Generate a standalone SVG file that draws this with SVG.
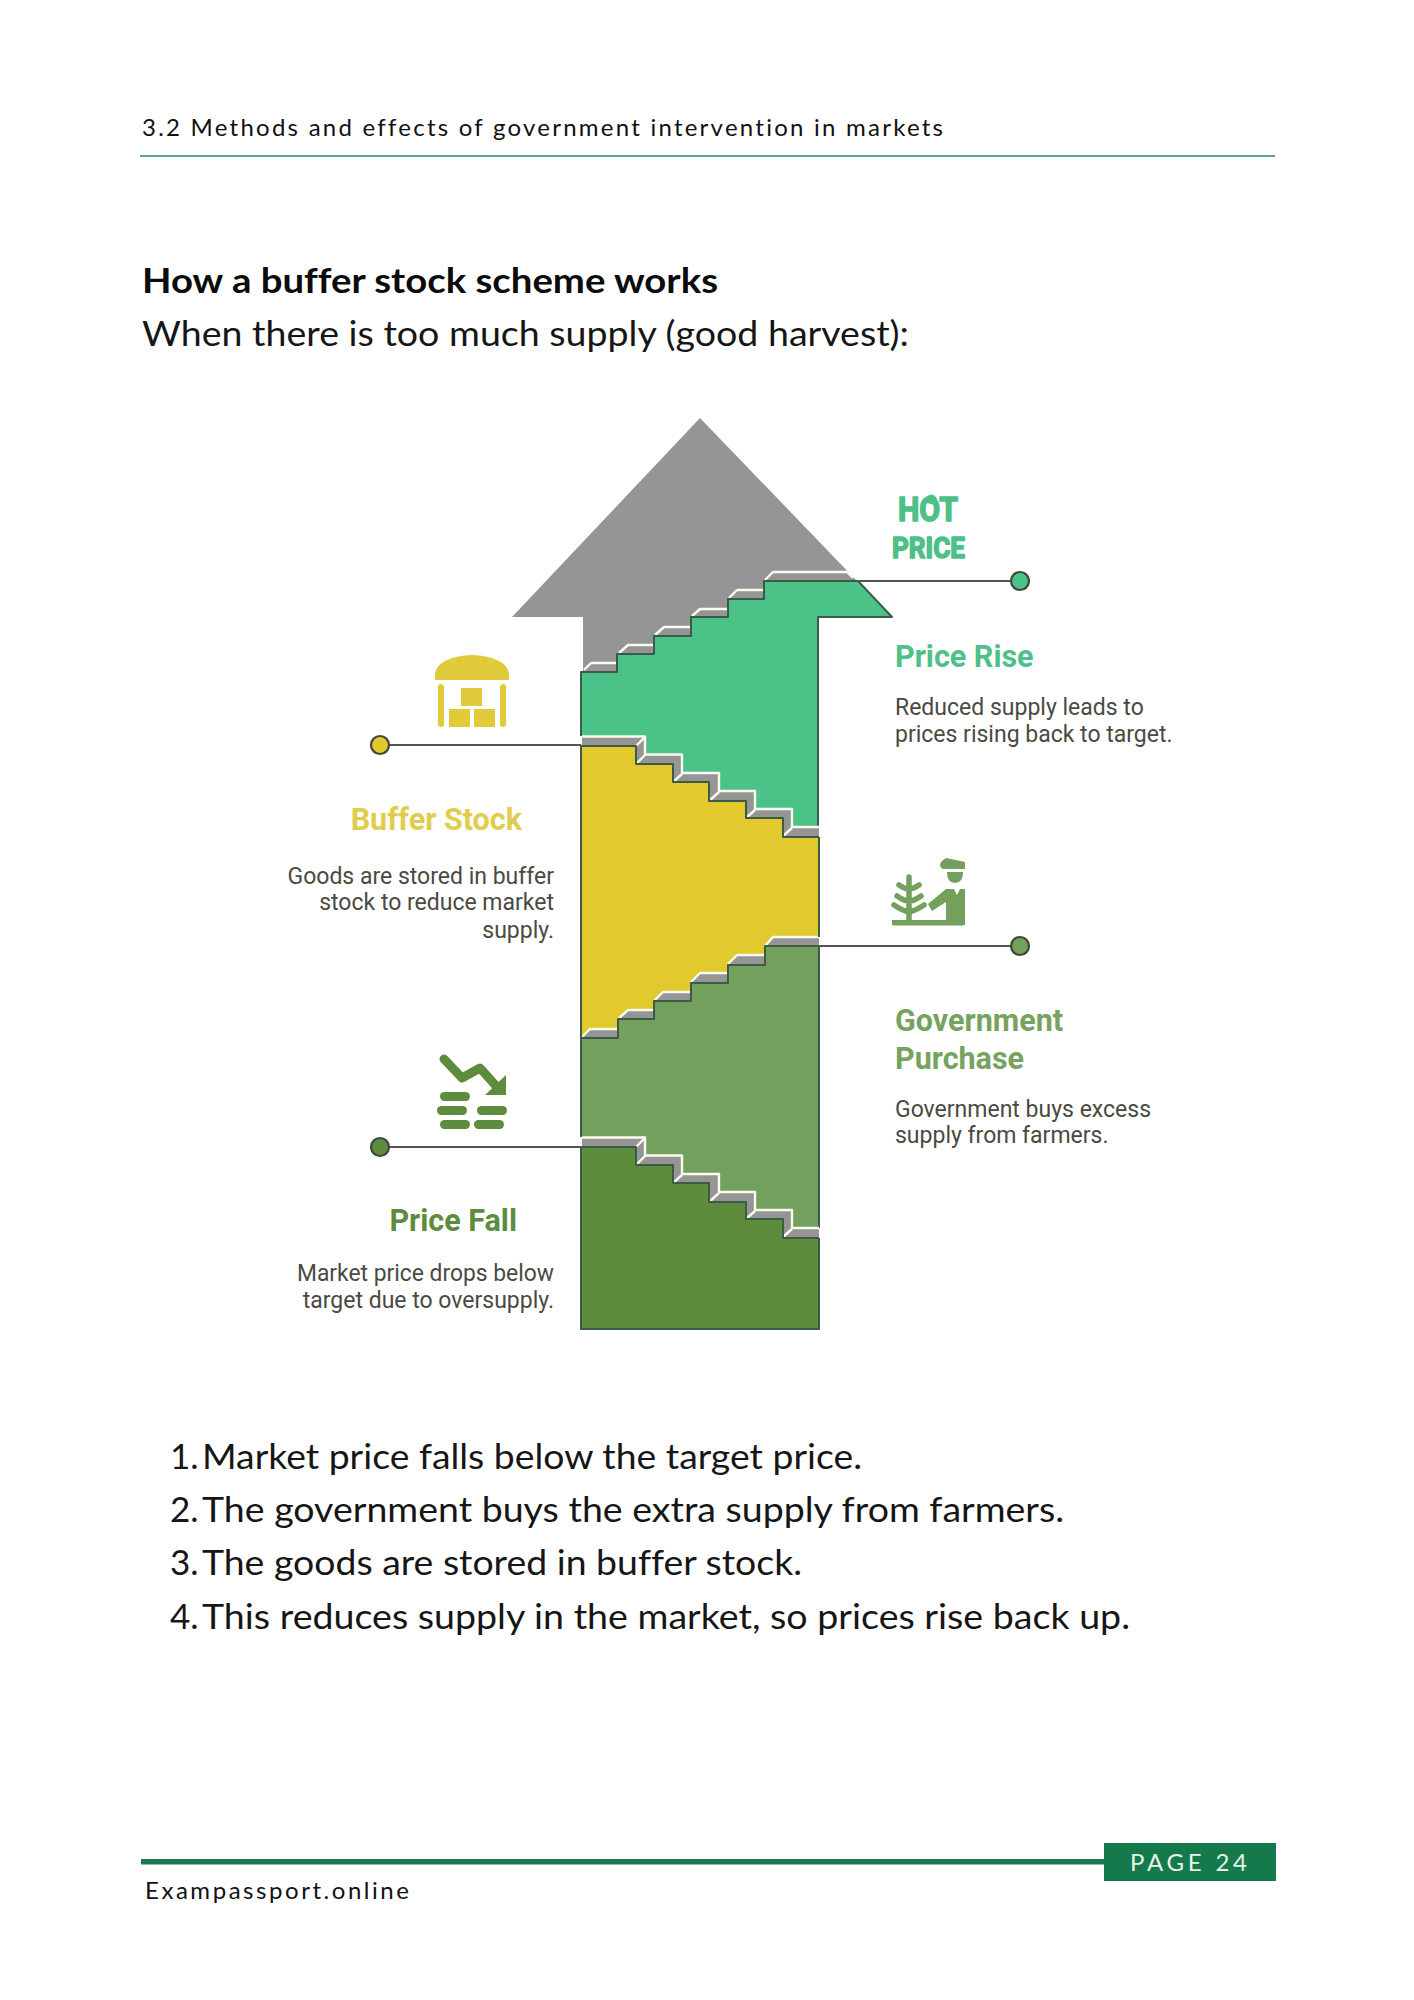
<svg xmlns="http://www.w3.org/2000/svg" xmlns:xlink="http://www.w3.org/1999/xlink" width="1414" height="2000" viewBox="0 0 1414 2000">
<style>
text{font-variant-ligatures:none}
.page{font-family:"Lato","Noto Sans",sans-serif;fill:#111}
.spaced{font-size:24px}
.body{font-size:35px;fill:#161616}
.head{font-size:35px;font-weight:700;fill:#0c0c0c}
.title{font-family:"Roboto","Liberation Sans",sans-serif;font-weight:700;font-size:30.500px}
.desc{font-family:"Roboto","Liberation Sans",sans-serif;font-size:23px;fill:#4a4a42}
.end{text-anchor:end}
.edge{fill:none;stroke:#3c5a46;stroke-width:2;stroke-linejoin:round}
.lit{fill:none;stroke:#fbfbf0;stroke-width:2.400;stroke-linejoin:round}
.conn{stroke:#555;stroke-width:2;fill:none}
.dot{stroke:#45463a;stroke-width:2.200}
.grey{fill:#959595}
.hot{font-family:"Roboto","Liberation Sans",sans-serif;font-weight:700;fill:#4cc088;stroke:#4cc088;stroke-width:1.600;stroke-linejoin:round}
</style>
<defs>
<g id="descBand">
<polygon class="grey" points="582,736 645,736 645,754 682,754 682,773 719,773 719,791 755,791 755,809 792,809 792,827 819,827 819,837 783,837 783,818 746,818 746,801 709,801 709,782 673,782 673,764 636,764 636,746 582,746"/>
<path class="lit" d="M582,736.500H645V754.500H682V773H719V791H755V809H792V827H819M636,746L645,737M636,764L645,755M673,782L682,774M709,801L719,792M746,818L755,810M783,836L792,828"/>
</g>
<path id="descEdge" class="edge" d="M581,746H636V764H673V782H709V801H746V818H783V837H819"/>
</defs>
<rect width="1414" height="2000" fill="#fff"/>

<g id="header">
<text class="page spaced" x="142" y="136" textLength="801" lengthAdjust="spacing">3.2 Methods and effects of government intervention in markets</text>
<line x1="140" y1="156" x2="1275" y2="156" stroke="#5ea592" stroke-width="2"/>
<text class="page head" x="142" y="293" textLength="576" lengthAdjust="spacingAndGlyphs">How a buffer stock scheme works</text>
<text class="page body" x="142" y="346" textLength="767" lengthAdjust="spacingAndGlyphs">When there is too much supply (good harvest):</text>
</g>

<g id="arrow-shadow">
<polygon class="grey" points="700,418 857,581 764,581 764,599 728,599 728,617 691,617 691,636 654,636 654,654 617,654 617,672 583,672 583,617 512,617"/>
<path class="lit" d="M584,670L591,663H617M619,653L628,645H654M655,635L664,627H691M692,616L700,609H728M729,598L737,590H764M765,580L773,572H847L853,578"/>
</g>

<g id="step-price-rise">
<polygon fill="#4bc388" points="581,672 617,672 617,654 654,654 654,636 691,636 691,617 728,617 728,599 764,599 764,581 858,581 892,617 818,617 819,827 792,827 792,809 755,809 755,791 719,791 719,773 682,773 682,754 645,754 645,736 581,736"/>
<path class="edge" d="M581,736V672H617V654H654V636H691V617H728V599H764V581H858L892,617H818V827"/>
</g>

<g id="step-buffer-stock">
<use href="#descBand"/>
<polygon class="grey" points="819,937 773,937 765,946 765,955 737,955 728,964 728,973 700,973 691,982 691,992 663,992 654,1001 654,1010 628,1010 618,1019 618,1029 590,1029 581,1038 618,1038 618,1019 654,1019 654,1001 691,1001 691,983 728,983 728,965 765,965 765,946 819,946"/>
<polygon fill="#e1c92e" points="581,746 636,746 636,764 673,764 673,782 709,782 709,801 746,801 746,818 783,818 783,837 819,837 819,937 773,937 765,946 765,955 737,955 728,964 728,973 700,973 691,982 691,992 663,992 654,1001 654,1010 628,1010 618,1019 618,1029 590,1029 581,1038"/>
<path class="lit" d="M819,937H773L765,946M765,955H737L728,964M728,973H700L691,982M691,992H663L654,1001M654,1010H628L618,1019M618,1029H590L582,1037"/>
<path class="edge" d="M581,746V1038M819,837V937"/>
<use href="#descEdge"/>
</g>

<g id="step-government-purchase">
<polygon fill="#73a05c" points="581,1038 618,1038 618,1019 654,1019 654,1001 691,1001 691,983 728,983 728,965 765,965 765,946 819,946 819,1228 792,1228 792,1210 755,1210 755,1192 719,1192 719,1174 682,1174 682,1155 645,1155 645,1137 581,1137"/>
<path class="edge" d="M581,1137V1038H618V1019H654V1001H691V983H728V965H765V946H819V1228"/>
</g>

<g id="step-price-fall">
<use href="#descBand" transform="translate(0,401)"/>
<polygon fill="#5d8c3c" points="581,1147 636,1147 636,1165 673,1165 673,1183 709,1183 709,1202 746,1202 746,1219 783,1219 783,1238 819,1238 819,1329 581,1329"/>
<path class="edge" d="M581,1147V1329H819V1238"/>
<use href="#descEdge" transform="translate(0,401)"/>
</g>

<g id="connectors">
<line class="conn" x1="858" y1="581" x2="1011" y2="581"/>
<line class="conn" x1="389" y1="745" x2="581" y2="745"/>
<line class="conn" x1="819" y1="946" x2="1011" y2="946"/>
<line class="conn" x1="389" y1="1147" x2="581" y2="1147"/>
</g>

<g id="price-rise">
<circle class="dot" cx="1020" cy="581" r="9" fill="#4bc388"/>
<text class="hot" x="928" y="521" font-size="34" text-anchor="middle" textLength="60" lengthAdjust="spacingAndGlyphs">HOT</text>
<path d="M926,497Q933,491 937,499L935,505L927,503Z" fill="#4cc088"/>
<circle cx="929" cy="511" r="2.500" fill="#fff"/>
<text class="hot" x="928.500" y="558" font-size="29" text-anchor="middle" textLength="73" lengthAdjust="spacingAndGlyphs">PRICE</text>
<text class="title" x="895" y="667" fill="#4fc08c">Price Rise</text>
<text class="desc" x="895" y="715">Reduced supply leads to</text>
<text class="desc" x="895" y="742">prices rising back to target.</text>
</g>

<g id="buffer-stock">
<circle class="dot" cx="380" cy="745" r="9" fill="#e1c92e"/>
<g fill="#e1cb3a">
<path d="M435,680V674Q436,667 443,662Q456,655 472,655Q488,655 501,662Q508,667 509,674V680Z"/>
<rect x="438" y="684" width="6" height="43" rx="3"/>
<rect x="500" y="684" width="6" height="43" rx="3"/>
<rect x="461" y="688" width="21" height="18"/>
<rect x="449" y="709" width="21" height="18"/>
<rect x="474" y="709" width="21" height="18"/>
</g>
<text class="title" x="522" y="830" text-anchor="end" fill="#e0cd4e">Buffer Stock</text>
<text class="desc end" x="554" y="884">Goods are stored in buffer</text>
<text class="desc end" x="554" y="910">stock to reduce market</text>
<text class="desc end" x="554" y="938">supply.</text>
</g>

<g id="government-purchase">
<circle class="dot" cx="1020" cy="946" r="9" fill="#73a05c"/>
<g fill="#73a05c">
<path d="M940,864Q942,860 946,858L965,862V869H943Q940,868 940,864Z"/>
<path d="M947,872H963Q963,883 955,883Q947,883 947,872Z"/>
<path d="M928,904L946,889H954L957,895L960,889H965V925H892V920H946V902L932,911Z"/>
<rect x="892" y="920" width="73" height="5.500" rx="2.500"/>
</g>
<path d="M909,877V920M899,885Q905,889 909,889Q913,889 919,885M897,896Q904,901 909,901Q914,901 921,896M894,905Q903,911 909,912Q915,911 924,905" fill="none" stroke="#73a05c" stroke-width="5.500" stroke-linecap="round"/>
<text class="title" x="895" y="1031" fill="#76a35f">Government</text>
<text class="title" x="895" y="1069" fill="#76a35f">Purchase</text>
<text class="desc" x="895" y="1117">Government buys excess</text>
<text class="desc" x="895" y="1143">supply from farmers.</text>
</g>

<g id="price-fall">
<circle class="dot" cx="380" cy="1147" r="9" fill="#5d8c3c"/>
<path d="M444,1059L462,1078L480,1068L497,1087" fill="none" stroke="#5d8c3c" stroke-width="9" stroke-linecap="round" stroke-linejoin="round"/>
<polygon points="506,1075 506,1095 485,1095" fill="#5d8c3c"/>
<g fill="#5d8c3c">
<rect x="440" y="1092" width="30" height="9" rx="4.500"/>
<rect x="437" y="1106" width="30" height="9" rx="4.500"/>
<rect x="477" y="1106" width="30" height="9" rx="4.500"/>
<rect x="440" y="1120" width="30" height="9" rx="4.500"/>
<rect x="474" y="1120" width="30" height="9" rx="4.500"/>
</g>
<text class="title" x="517" y="1231" text-anchor="end" fill="#5d8c3e">Price Fall</text>
<text class="desc end" x="554" y="1281" textLength="257" lengthAdjust="spacingAndGlyphs">Market price drops below</text>
<text class="desc end" x="554" y="1308">target due to oversupply.</text>
</g>

<g id="list">
<text class="page body" x="170" y="1469">1.</text><text class="page body" x="202" y="1469" textLength="660" lengthAdjust="spacingAndGlyphs">Market price falls below the target price.</text>
<text class="page body" x="170" y="1522">2.</text><text class="page body" x="202" y="1522" textLength="862" lengthAdjust="spacingAndGlyphs">The government buys the extra supply from farmers.</text>
<text class="page body" x="170" y="1575">3.</text><text class="page body" x="202" y="1575" textLength="600" lengthAdjust="spacingAndGlyphs">The goods are stored in buffer stock.</text>
<text class="page body" x="170" y="1629">4.</text><text class="page body" x="202" y="1629" textLength="928" lengthAdjust="spacingAndGlyphs">This reduces supply in the market, so prices rise back up.</text>
</g>

<g id="footer">
<rect x="141" y="1859" width="964" height="5.500" fill="#1c7a50"/>
<rect x="1104" y="1843" width="172" height="38" fill="#157a4b"/>
<text x="1130" y="1871" font-family="Lato,sans-serif" font-size="24" fill="#e6f2ea" textLength="117" lengthAdjust="spacing">PAGE 24</text>
<text class="page spaced" x="145" y="1899" textLength="264" lengthAdjust="spacing">Exampassport.online</text>
</g>
</svg>
